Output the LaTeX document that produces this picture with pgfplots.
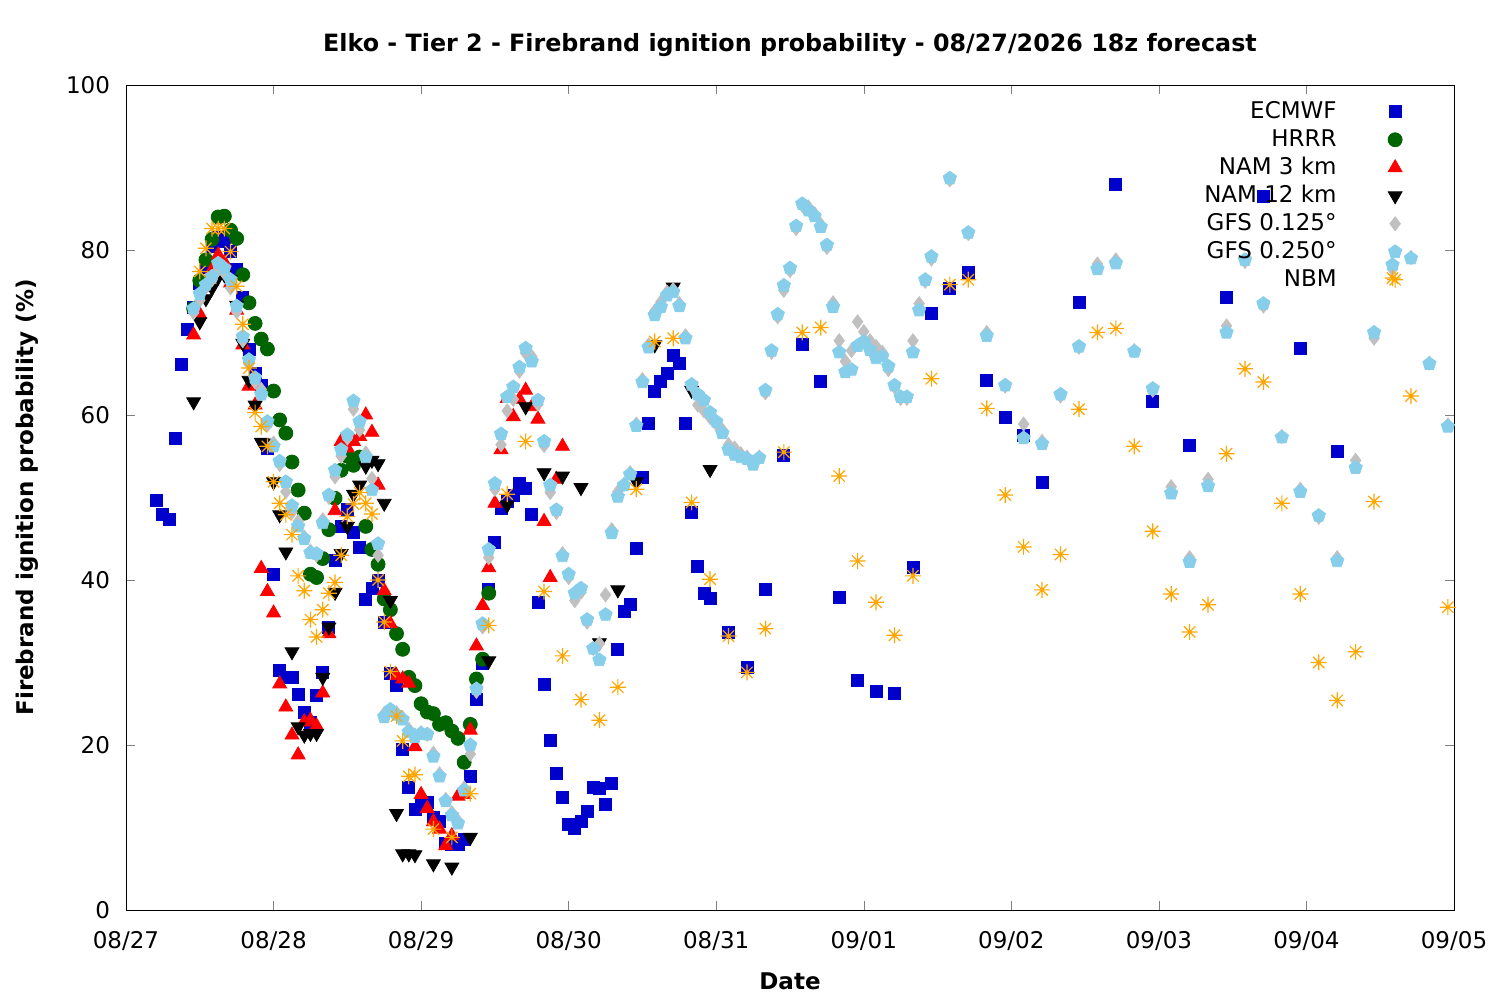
\documentclass[border=0pt]{standalone}
\usepackage{fontspec}
\setmainfont{DejaVu Sans}
\usepackage{pgfplots}
\pgfplotsset{compat=1.18}
\definecolor{ecblue}{RGB}{0,0,204}
\definecolor{hrgreen}{RGB}{0,100,0}
\definecolor{gfsgrey}{RGB}{192,192,192}
\definecolor{gfsblue}{RGB}{135,206,235}
\definecolor{nbmorange}{RGB}{255,165,0}
\pgfdeclareplotmark{gpstar}{%
  \pgfpathmoveto{\pgfqpoint{-\pgfplotmarksize}{0pt}}\pgfpathlineto{\pgfqpoint{\pgfplotmarksize}{0pt}}%
  \pgfpathmoveto{\pgfqpoint{0pt}{-\pgfplotmarksize}}\pgfpathlineto{\pgfqpoint{0pt}{\pgfplotmarksize}}%
  \pgfpathmoveto{\pgfqpoint{-0.707\pgfplotmarksize}{-0.707\pgfplotmarksize}}\pgfpathlineto{\pgfqpoint{0.707\pgfplotmarksize}{0.707\pgfplotmarksize}}%
  \pgfpathmoveto{\pgfqpoint{-0.707\pgfplotmarksize}{0.707\pgfplotmarksize}}\pgfpathlineto{\pgfqpoint{0.707\pgfplotmarksize}{-0.707\pgfplotmarksize}}%
  \pgfusepathqstroke}
\begin{document}
\fontsize{11.5}{13.8}\selectfont
\begin{tikzpicture}
\begin{axis}[
  name=main,
  scale only axis,
  width=664pt, height=412.5pt,
  xmin=0, xmax=216, ymin=0, ymax=100,
  xtick={0,24,...,216},
  xticklabels={08/27,08/28,08/29,08/30,08/31,09/01,09/02,09/03,09/04,09/05},
  ytick={0,20,...,100},
  tick align=inside,
  major tick length=4.5pt,
  /pgf/number format/assume math mode=true,
  xticklabel style={yshift=-6.5pt},
  yticklabel style={xshift=-4pt},
  title={\fontsize{11.9}{14}\selectfont\bfseries Elko - Tier 2 - Firebrand ignition probability - 08/27/2026 18z forecast},
  title style={at={(axis description cs:0.5,1.0255)}, anchor=base},
  xlabel={\bfseries Date},
  xlabel style={at={(axis description cs:0.5,-0.0958)}, anchor=base},
  ylabel={\bfseries Firebrand ignition probability (\%)},
  ylabel style={at={(axis description cs:-0.0745,0.5)}, anchor=center},
  legend cell align=right,
  legend plot pos=right,
  legend style={at={(axis description cs:0.962,0.985)}, anchor=north east, draw=none, fill=none, inner sep=0pt,
    nodes={text height=9pt, text depth=2.5pt, inner sep=1.25pt}, row sep=0pt,
    /tikz/every odd column/.style={column sep=24pt}},
]
\addplot[only marks, mark=square*, mark size=3pt, color=ecblue] table {
5 49.7
6 47.9
7 47.3
8 57.2
9 66.1
10 70.4
11 73
12 76
13 77.9
14 80.4
15 81.5
16 81
17 79.8
18 77.7
19 74.2
20 67.9
21 65
22 63.6
23 56
24 40.7
25 29
26 28.2
27 28.2
28 26.1
29 24
30 22.7
31 26
32 28.8
33 34.2
34 42.4
35 46.5
36 48.6
37 45.8
38 44
39 37.7
40 39
41 40
42 34.8
43 28.7
44 27.2
45 19.5
46 14.8
47 12.2
48 13
49 13
50 11.2
51 10.7
52 8.1
53 7.9
54 7.9
55 8.6
56 16.2
57 25.5
58 29.9
59 38.9
60 44.6
61 48.7
62 49.5
63 50.2
64 51.7
65 51.1
66 47.9
67 37.3
68 27.4
69 20.5
70 16.5
71 13.7
72 10.4
73 9.9
74 10.7
75 11.9
76 14.9
77 14.7
78 12.8
79 15.4
80 31.6
81 36.2
82 37.1
83 43.8
84 52.4
85 59
86 62.9
87 64.1
88 65.1
89 67.2
90 66.3
91 59
92 48.2
93 41.6
94 38.4
95 37.8
98 33.6
101 29.4
104 38.8
107 55.1
110 68.6
113 64.1
116 37.9
119 27.8
122 26.5
125 26.3
128 41.5
131 72.3
134 75.4
137 77.3
140 64.2
143 59.7
146 57.5
149 51.8
155 73.7
161 87.9
167 61.7
173 56.3
179 74.2
185 86.5
191 68.1
197 55.6
};
\addlegendentry{ECMWF}
\addplot[only marks, mark=*, mark size=3.5pt, color=hrgreen] table {
11 72.9
12 76.3
13 78.8
14 81.3
15 84
16 84.1
17 82.4
18 81.4
19 77
20 73.6
21 71.1
22 69.2
23 68
24 62.9
25 59.4
26 57.8
27 54.3
28 50.9
29 48.1
30 40.7
31 40.3
32 42.6
33 46.1
34 49.9
35 53.3
36 55
37 53.9
38 54.9
39 46.5
40 43.7
41 41.9
42 37.7
43 36.4
44 33.5
45 31.6
46 28.2
47 27.2
48 25
49 24
50 23.8
51 22.5
52 22.7
53 21.7
54 20.8
55 17.9
56 22.5
57 28
58 30.4
59 38.4
};
\addlegendentry{HRRR}
\addplot[only marks, mark=triangle*, mark size=4pt, color=red] table {
11 69.7
12 72.2
13 75.5
14 77.6
15 79.4
16 78.5
17 76
18 72.7
19 68.5
20 63.5
21 61.2
22 41.4
23 38.6
24 36
25 27.4
26 24.6
27 21.2
28 18.8
29 22.8
30 23
31 22.3
32 26.3
33 33.5
34 48.4
35 56.8
36 56
37 56.8
38 57.4
39 60
40 57.9
41 51.5
42 38.7
43 34.7
44 28.4
45 28
46 27.5
47 19.8
48 14
49 12.3
50 10.7
51 9.8
52 7.8
53 9
54 13.8
55 14
56 21.8
57 32
58 36.9
59 41.5
60 49.3
61 55.8
62 62
63 59.8
64 61.9
65 63
66 61
67 59.5
68 47.1
69 40.3
70 52.2
71 56.2
};
\addlegendentry{NAM 3 km}
\addplot[only marks, mark=triangle*, mark size=4pt, mark options={rotate=180}, color=black] table {
11 61.6
12 71.3
13 74.1
14 75.4
15 76.7
16 77
17 76.4
18 73.3
19 68.7
20 64.2
21 61.2
22 56.7
23 56.6
24 51.9
25 47.9
26 43.4
27 31.3
28 22.2
29 21.2
30 21.4
31 21.4
32 28.2
33 34.3
34 38.5
35 43.2
36 46.5
37 50.4
38 51.5
39 53.8
40 54.5
41 54.1
42 49.3
43 37.5
44 11.7
45 6.8
46 6.8
47 6.7
50 5.6
53 5.2
56 8.8
59 30.2
62 49.1
65 61
68 53
71 52.6
74 51.2
77 32.4
80 38.8
83 51.9
86 68.5
89 75.5
92 63
95 53.4
};
\addlegendentry{NAM 12 km}
\addplot[only marks, mark=diamond*, mark size=3.5pt, color=gfsgrey] table {
11 72.4
12 73.9
13 75.5
14 76.4
15 77.6
16 77.2
17 75.4
18 72.5
19 69
20 66.2
21 64
22 63.1
23 58.8
24 56.6
25 54
26 50.7
27 48.2
28 47.1
29 45.2
30 43.5
31 43
32 47.3
33 50
34 52.5
35 55
36 57.2
37 60.7
38 58.2
39 55.4
40 52.3
41 43
42 23.8
43 24.3
44 23.9
45 23.3
46 21.9
47 21.2
48 21.5
49 21.3
50 19
51 16.5
52 13.4
53 11.8
54 10.8
55 14.8
56 18.9
57 26.5
58 34.3
59 42.7
60 51
61 56.4
62 60.5
63 61.9
64 65.3
65 67.5
66 67.1
67 61.3
68 56.3
69 50.6
70 48.2
71 43.2
72 40.3
73 37.5
74 38.5
75 34.9
76 31.7
77 32.3
78 38.2
79 46.1
80 50.7
81 51.6
82 53
83 58.9
84 64.3
85 68.5
86 72.6
87 73.7
88 74.9
89 75.2
90 73.5
91 69.6
92 63.5
93 61.2
94 60.5
95 59.7
96 58.9
97 58.2
98 56.4
99 56
100 55.3
101 54.9
102 54.2
103 54.9
104 62.7
105 67.6
106 71.9
107 75.1
108 77.5
109 82.6
110 85.4
111 85.2
112 84.4
113 83.1
114 80.3
115 73.6
116 69
117 66.5
118 67.8
119 71.3
120 70.1
121 69
122 68.3
123 67.6
124 65.5
125 63.4
126 62
127 62
128 69
129 73.5
130 76.2
131 78.9
134 88.5
137 82
140 70
143 63.5
146 58.9
149 56.8
152 62.3
155 68.2
158 78.3
161 78.8
164 67.8
167 63
170 51.3
173 42.7
176 52.2
179 70.8
182 78.6
185 73.2
188 57.4
191 51
194 47.6
197 42.7
200 54.5
203 69.3
206 77.7
209 79.1
212 66.3
215 58.8
};
\addlegendentry{GFS 0.125°}
\addplot[only marks, mark=pentagon*, mark size=3.5pt, color=gfsblue] table {
11 72.9
12 74.7
13 75.8
14 76.8
15 78.4
16 77.8
17 76.4
18 73.2
19 69.5
20 66.7
21 64.5
22 62.5
23 59.2
24 56.2
25 54.4
26 51.9
27 49
28 46.5
29 45
30 43.3
31 43.2
32 46.9
33 50.3
34 53.3
35 55.8
36 57.6
37 61.7
38 59.2
39 54.9
40 50.9
41 44.4
42 23.4
43 24.3
44 23.7
45 23.1
46 21.6
47 21
48 21.4
49 21.3
50 18.6
51 16.2
52 13.2
53 11.5
54 10.5
55 14.5
56 20
57 26.8
58 34.7
59 43.7
60 51.7
61 57.7
62 62.2
63 63.4
64 65.8
65 68.1
66 66.5
67 61.8
68 56.8
69 51.5
70 48.5
71 42.9
72 40.7
73 38.4
74 39
75 35.2
76 31.7
77 30.3
78 35.8
79 45.7
80 50.1
81 51.5
82 52.8
83 58.7
84 64
85 68.2
86 72.1
87 73.1
88 74.5
89 74.9
90 73.2
91 69.3
92 63.7
93 62.5
94 61.8
95 60.3
96 59.2
97 57.8
98 55.8
99 55.2
100 54.9
101 54.7
102 54
103 54.8
104 63
105 67.8
106 72.2
107 75.7
108 77.8
109 82.9
110 85.6
111 84.8
112 84.1
113 82.8
114 80.6
115 73.1
116 67.6
117 65.2
118 65.5
119 68.4
120 68.9
121 67.9
122 66.9
123 67.1
124 65.9
125 63.6
126 62.2
127 62.2
128 67.6
129 72.7
130 76.4
131 79.2
134 88.7
137 82.1
140 69.6
143 63.6
146 57.2
149 56.5
152 62.5
155 68.3
158 77.7
161 78.4
164 67.7
167 63.2
170 50.5
173 42.2
176 51.4
179 70
182 78.8
185 73.5
188 57.3
191 50.7
194 47.8
197 42.3
200 53.6
203 70
206 78.2
209 79
212 66.2
215 58.6
};
\addlegendentry{GFS 0.250°}
\addplot[only marks, mark=gpstar, mark size=4pt, color=nbmorange, line width=0.6pt] table {
12 77.4
13 80.2
14 82.6
15 82.6
16 82.6
17 79.8
18 75.6
19 71
20 65.7
21 60.3
22 58.6
23 56.2
24 51.9
25 49.3
26 47.9
27 45.5
28 40.5
29 38.7
30 35.2
31 33.1
32 36.4
33 38.4
34 39.7
35 43
36 47.7
37 49.2
38 50.6
39 49.3
40 48
41 40
42 34.9
43 28.9
44 23.5
45 20.5
46 16.2
47 16.4
50 9.8
53 8.8
56 14.1
59 34.5
62 50.4
65 56.8
68 38.6
71 30.8
74 25.5
77 23
80 27
83 51
86 68.9
89 69.3
92 49.4
95 40.1
98 33.2
101 28.8
104 34.1
107 55.5
110 70
113 70.6
116 52.6
119 42.3
122 37.3
125 33.3
128 40.5
131 64.4
134 75.8
137 76.4
140 60.8
143 50.3
146 44
149 38.8
152 43.1
155 60.7
158 70
161 70.5
164 56.2
167 45.9
170 38.3
173 33.7
176 37
179 55.3
182 65.6
185 64
188 49.3
191 38.3
194 30
197 25.4
200 31.3
203 49.5
206 76.6
209 62.3
215 36.7
};
\addlegendentry{NBM}
\end{axis}
\pgfresetboundingbox
\path ([xshift=-63pt,yshift=-45pt]main.south west) rectangle ([xshift=23pt,yshift=42.5pt]main.north east);
\end{tikzpicture}
\end{document}
